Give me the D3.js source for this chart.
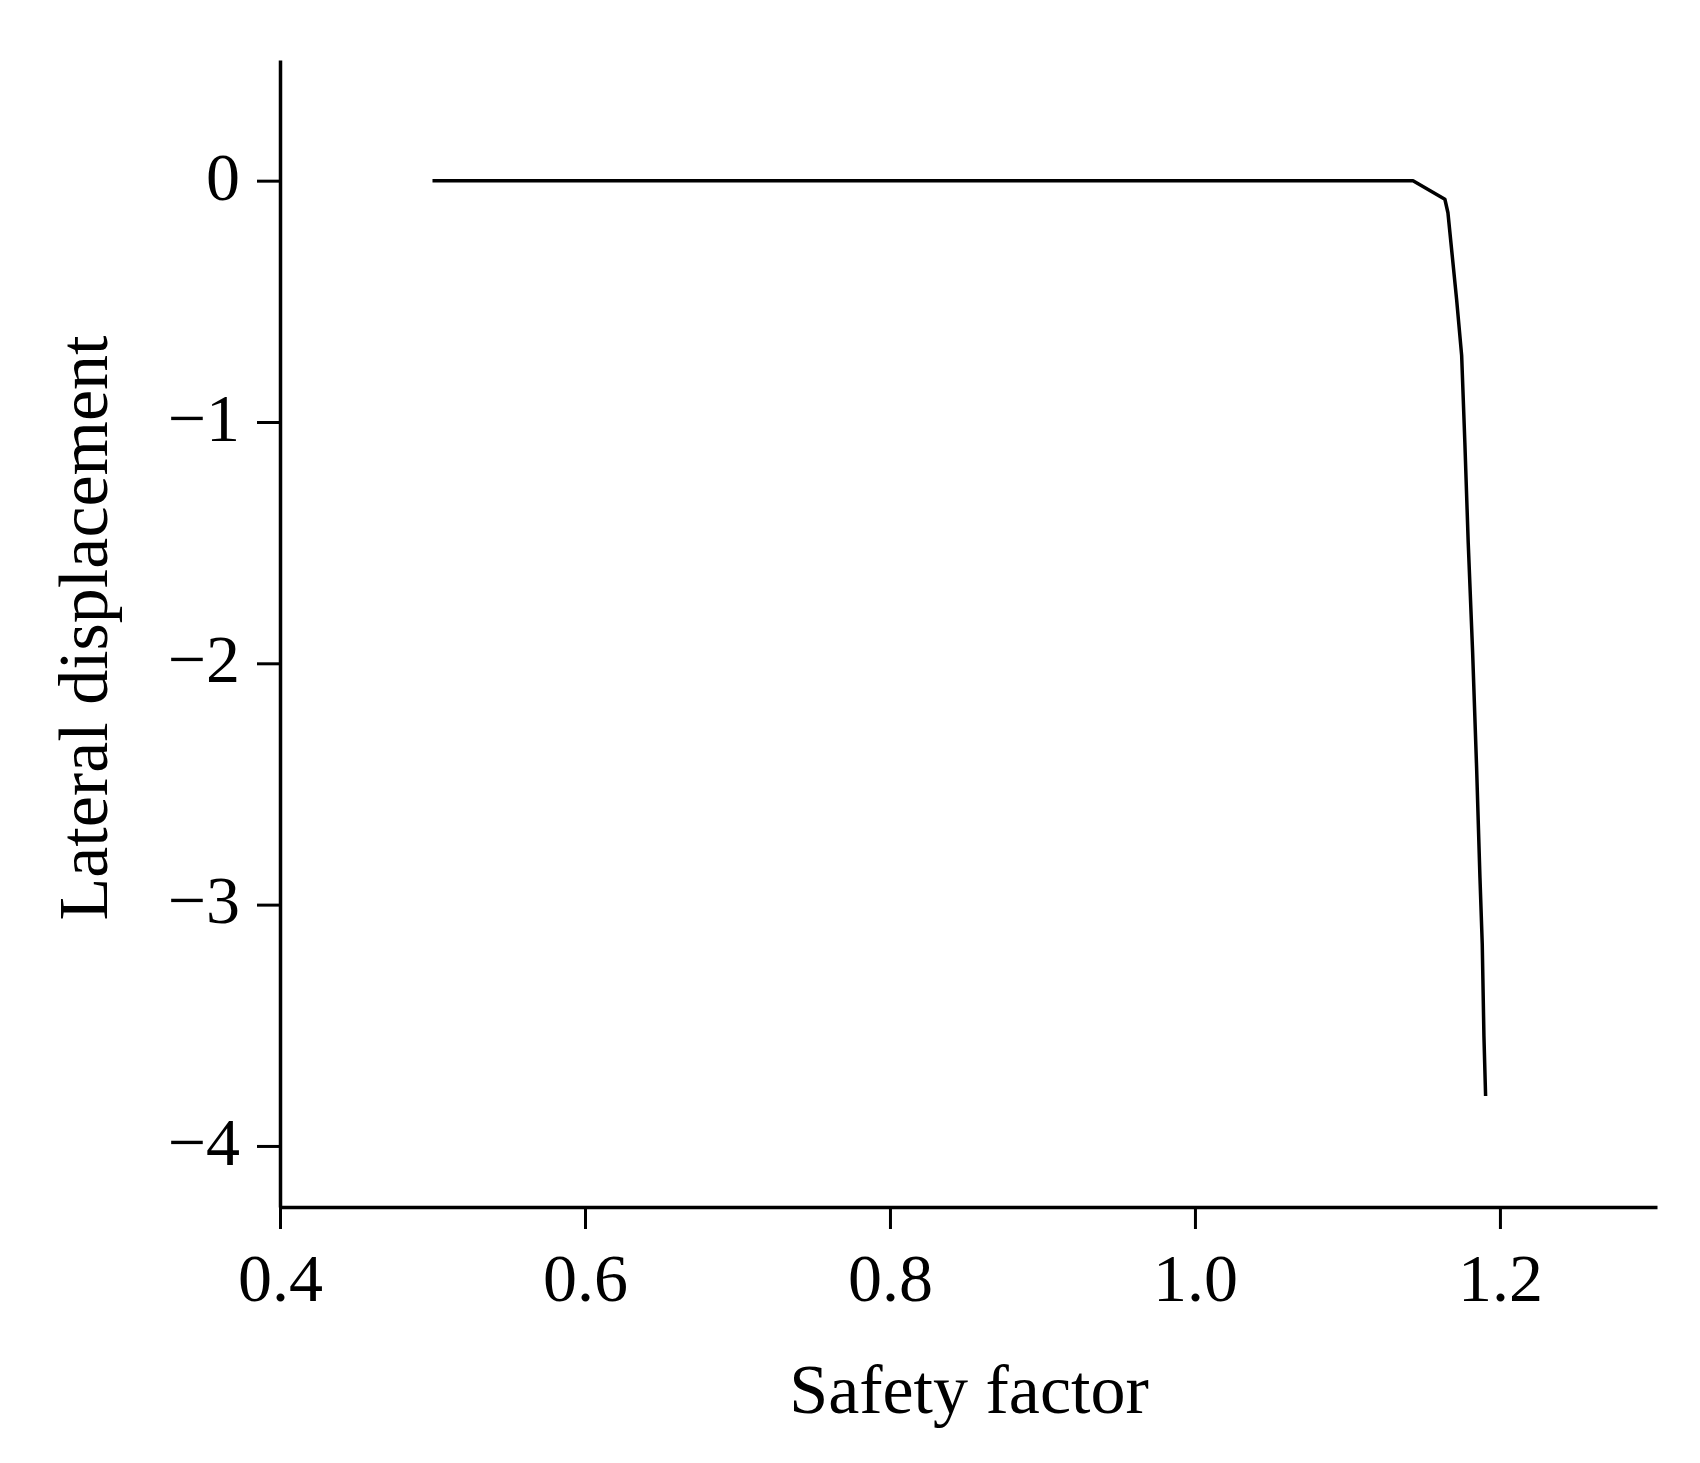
<!DOCTYPE html>
<html>
<head>
<meta charset="utf-8">
<script src="https://cdn.jsdelivr.net/npm/d3@7"></script>
<style>
  html, body { margin: 0; padding: 0; background: #fff; }
  svg { display: block; }
  text { font-family: "Liberation Serif", "Times New Roman", serif; fill: #000; }
</style>
</head>
<body>
<svg id="chart" width="1700" height="1463"></svg>
<script>
// Data
const safetyFactor = [0.5, 1.143, 1.1639, 1.1659, 1.1716, 1.1749, 1.1770, 1.1792, 1.1821, 1.1847, 1.1869, 1.1884, 1.1895, 1.1906];
const lateralDisp  = [0.0, 0.0, -0.077, -0.133, -0.493, -0.725, -1.086, -1.50, -1.956, -2.432, -2.888, -3.163, -3.544, -3.793];
const xTicks = [0.4, 0.6, 0.8, 1.0, 1.2];
const yTicks = [0, -1, -2, -3, -4];
const xDomain = [0.4, 1.303];
const yDomain = [-4.253, 0.5];
const xTitle = "Safety factor";
const yTitle = "Lateral displacement";

const svg = d3.select("#chart");
const mLeft = 280, mRight = 1657, mTop = 60, mBottom = 1207;

const x = d3.scaleLinear().domain(xDomain).range([mLeft, mRight]);
const y = d3.scaleLinear().domain(yDomain).range([mBottom, mTop]);

const xAxis = d3.axisBottom(x).tickValues(xTicks).tickFormat(d3.format(".1f")).tickSize(22).tickSizeOuter(0).tickPadding(24);
const yAxis = d3.axisLeft(y).tickValues(yTicks).tickFormat(d => d < 0 ? "\u2212" + Math.abs(d) : String(d)).tickSize(23).tickSizeOuter(0).tickPadding(17);

const gx = svg.append("g").attr("transform", `translate(0,${mBottom})`).call(xAxis);
const gy = svg.append("g").attr("transform", `translate(${mLeft},0)`).call(yAxis);

[gx, gy].forEach(g => {
  g.select(".domain").attr("stroke", "#000").attr("stroke-width", 3.5);
  g.selectAll(".tick line").attr("stroke", "#000").attr("stroke-width", 3);
  g.selectAll(".tick text").attr("font-family", "Liberation Serif").attr("font-size", 68).attr("fill", "#000");
});
gx.selectAll(".tick text").attr("dy", "0.71em");
gy.selectAll(".tick text").attr("dy", "0.27em");

const pts = safetyFactor.map((v, i) => [v, lateralDisp[i]]);
const line = d3.line().x(d => x(d[0])).y(d => y(d[1]));
svg.append("path").datum(pts)
  .attr("d", line)
  .attr("fill", "none")
  .attr("stroke", "#000")
  .attr("stroke-width", 3.5)
  .attr("stroke-linejoin", "round");

svg.append("text")
  .attr("x", 969).attr("y", 1413)
  .attr("text-anchor", "middle")
  .attr("font-size", 70)
  .text(xTitle);

svg.append("text")
  .attr("transform", "translate(107,628) rotate(-90)")
  .attr("text-anchor", "middle")
  .attr("font-size", 70)
  .text(yTitle);
</script>
</body>
</html>
